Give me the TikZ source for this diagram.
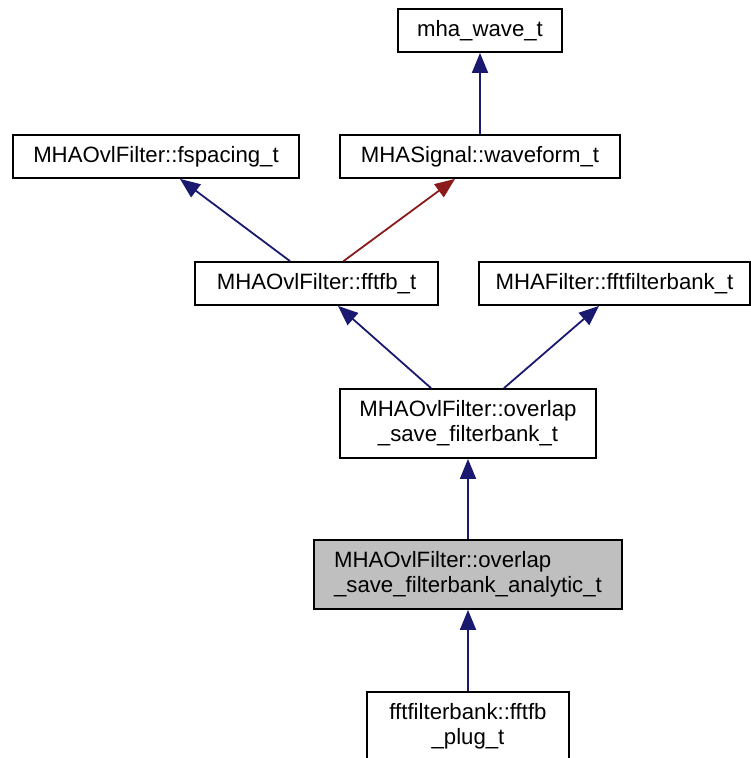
\documentclass[tikz,border=0pt]{standalone}
\usepackage{fontspec}
\setmainfont{Liberation Sans}
\usetikzlibrary{arrows.meta}
\definecolor{edgeblue}{RGB}{25,25,112}
\definecolor{edgered}{RGB}{139,26,26}
\definecolor{hlgray}{RGB}{191,191,191}
\begin{document}
\begin{tikzpicture}[x=1pt,y=-1pt,
  cls/.style={draw=black, line width=1.8pt, fill=white, inner sep=0pt, minimum height=43pt,
    font=\fontsize{22.2}{25}\selectfont, text=black},
  cls2/.style={cls, minimum height=69pt, align=center},
  inh/.style={draw=edgeblue, line width=1.8pt, -{Triangle[length=20pt,width=16pt]}, fill=edgeblue},
  use/.style={draw=edgered, line width=1.8pt, -{Triangle[length=20pt,width=16pt]}, fill=edgered}]
\useasboundingbox (0,0) rectangle (751,758);
\node[cls, minimum width=164pt] (mha) at (480,30.5) {mha\_wave\_t};
\node[cls, minimum width=280pt] (wave) at (480,156.5) {MHASignal::waveform\_t};
\node[cls, minimum width=286pt] (fsp) at (156,156.5) {MHAOvlFilter::fspacing\_t};
\node[cls, minimum width=243pt] (fftfb) at (316.5,283.5) {MHAOvlFilter::fftfb\_t};
\node[cls, minimum width=271pt] (fbank) at (614.5,283.5) {MHAFilter::fftfilterbank\_t};
\node[cls2, minimum width=256pt] (ols) at (468,423.5) {MHAOvlFilter::overlap\\\_save\_filterbank\_t};
\node[cls2, minimum width=308pt, fill=hlgray, align=left] (ana) at (468,574.5) {MHAOvlFilter::overlap\\\_save\_filterbank\_analytic\_t};
\node[cls2, minimum width=202pt] (plug) at (468,726.5) {fftfilterbank::fftfb\\\_plug\_t};
\draw[inh] (wave.north) -- (mha.south);
\draw[inh] ([xshift=-26.5pt]fftfb.north) -- ([xshift=24pt]fsp.south);
\draw[use] ([xshift=27pt]fftfb.north) -- ([xshift=-25pt]wave.south);
\draw[inh] ([xshift=-37pt]ols.north) -- ([xshift=21.5pt]fftfb.south);
\draw[inh] ([xshift=36pt]ols.north) -- ([xshift=-15.5pt]fbank.south);
\draw[inh] (ana.north) -- (ols.south);
\draw[inh] (plug.north) -- (ana.south);
\end{tikzpicture}
\end{document}
